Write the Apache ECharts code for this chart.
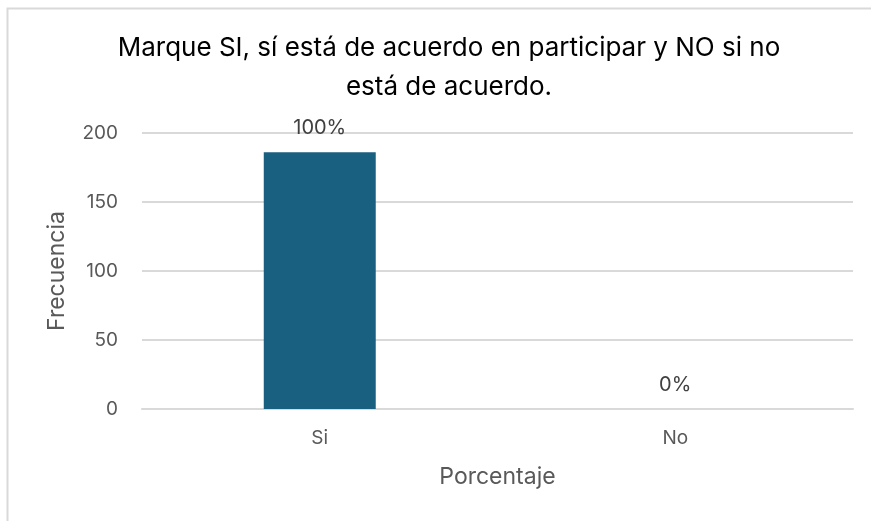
<!DOCTYPE html>
<html>
<head>
<meta charset="utf-8">
<script src="https://cdn.jsdelivr.net/npm/echarts@6/dist/echarts.min.js"></script>
<style>
  html, body {margin: 0; padding: 0; background: #fff;}
  #chart {width: 871px; height: 521px;}
</style>
</head>
<body>
<div id="chart"></div>
<script>
const categories = ['Si', 'No']
const frecuencia = [186, 0]
const porcentajes = ['100%', '0%']

const chart = echarts.init(document.getElementById('chart'))

const option = {
    backgroundColor: '#fff',
    textStyle: {fontFamily: 'Inter, "Open Sans", sans-serif'},
    graphic: [
        {
            type: 'rect',
            shape: {x: 7.5, y: 8.5, width: 880, height: 530},
            style: {fill: 'none', stroke: '#d9d9d9', lineWidth: 2}
        }
    ],
    title: {
        text: 'Marque SI, sí está de acuerdo en participar y NO si no\nestá de acuerdo.',
        left: 444,
        top: 24,
        textAlign: 'center',
        textStyle: {
            fontSize: 26,
            fontWeight: 'normal',
            color: '#000',
            lineHeight: 39,
            fontFamily: 'Inter, "Open Sans", sans-serif'
        }
    },
    grid: {left: 142, right: 18, top: 133, bottom: 112},
    xAxis: {
        type: 'category',
        data: categories,
        name: 'Porcentaje',
        nameLocation: 'middle',
        nameGap: 57,
        nameTextStyle: {fontSize: 23, color: '#595959'},
        axisLine: {lineStyle: {color: '#d9d9d9', width: 2}},
        axisTick: {show: false},
        axisLabel: {fontSize: 19, color: '#595959', margin: 20}
    },
    yAxis: {
        type: 'value',
        min: 0,
        max: 200,
        interval: 50,
        name: 'Frecuencia',
        nameLocation: 'middle',
        nameGap: 73,
        nameTextStyle: {fontSize: 23, color: '#595959'},
        axisLine: {show: false},
        axisTick: {show: false},
        axisLabel: {fontSize: 19, color: '#595959', margin: 24},
        splitLine: {lineStyle: {color: '#d9d9d9', width: 2}}
    },
    series: [
        {
            type: 'bar',
            data: frecuencia,
            barWidth: '31.5%',
            itemStyle: {color: '#185f80'},
            label: {
                show: true,
                position: 'top',
                distance: 14,
                fontSize: 20,
                color: '#404040',
                formatter: (p) => porcentajes[p.dataIndex]
            }
        }
    ]
}

chart.setOption(option)
</script>
</body>
</html>
